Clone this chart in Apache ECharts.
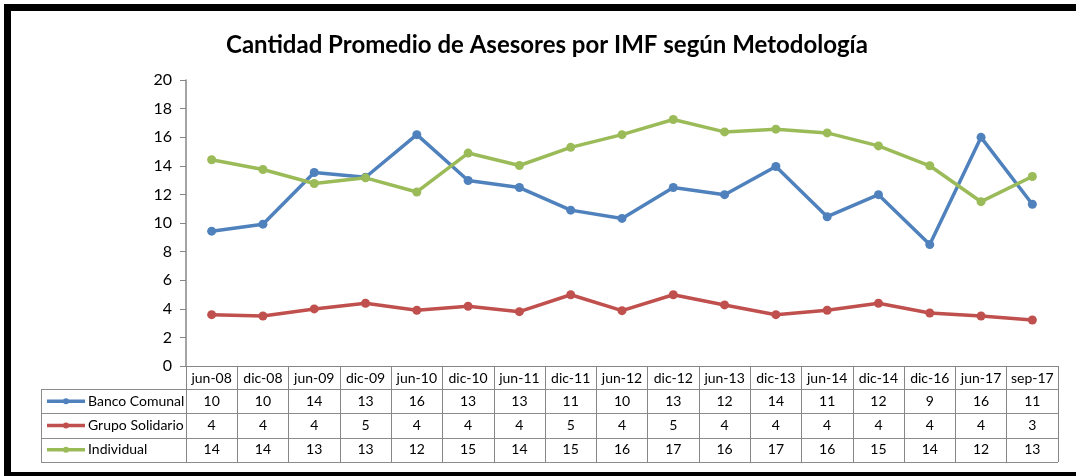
<!DOCTYPE html>
<html><head><meta charset="utf-8">
<script src="https://cdn.jsdelivr.net/npm/echarts@6/dist/echarts.min.js"></script>
<style>html,body{margin:0;padding:0;background:#fff}#c{width:1076px;height:476px}</style>
</head><body><div id="c"></div>
<script>
const categories = ['jun-08','dic-08','jun-09','dic-09','jun-10','dic-10','jun-11','dic-11','jun-12','dic-12','jun-13','dic-13','jun-14','dic-14','dic-16','jun-17','sep-17'];
const seriesNames = ['Banco Comunal','Grupo Solidario','Individual'];
const bancoComunal = [9.43,9.92,13.53,13.2,16.18,12.97,12.48,10.9,10.32,12.48,11.98,13.95,10.44,11.98,8.49,15.99,11.31];
const grupoSolidario = [3.59,3.5,3.99,4.39,3.9,4.18,3.8,4.98,3.87,4.98,4.27,3.59,3.9,4.39,3.71,3.5,3.22];
const individual = [14.42,13.74,12.76,13.16,12.17,14.89,14.02,15.29,16.18,17.24,16.37,16.56,16.3,15.39,14.0,11.49,13.25];
const tableBanco = [10,10,14,13,16,13,13,11,10,13,12,14,11,12,9,16,11];
const tableGrupo = [4,4,4,5,4,4,4,5,4,5,4,4,4,4,4,4,3];
const tableIndividual = [14,14,13,13,12,15,14,15,16,17,16,17,16,15,14,12,13];
const yTicks = [0,2,4,6,8,10,12,14,16,18,20];
const colors = ['#4F81BD','#C0504D','#9BBB59'];
const FONT = 'Lato, "Open Sans", sans-serif';

const chart = echarts.init(document.getElementById('c'));
const mkSeries = (name, data, color) => ({
  name, type: 'line', data, symbol: 'circle', symbolSize: 9,
  lineStyle: {color, width: 3.5}, itemStyle: {color}, animation: false
});
chart.setOption({
  animation: false,
  title: {text: 'Cantidad Promedio de Asesores por IMF según Metodología', left: 221, top: 28,
    textStyle: {fontFamily: FONT, fontWeight: 'bold', fontSize: 24, color: '#000'}},
  grid: {left: 186, right: 18, top: 80, bottom: 110},
  xAxis: {type: 'category', data: categories, boundaryGap: true,
    axisLine: {show: true, lineStyle: {color: '#868686', width: 1}},
    axisTick: {show: true, length: 96, lineStyle: {color: '#868686', width: 1}},
    axisLabel: {margin: 5, fontFamily: FONT, fontSize: 14, color: '#000', interval: 0}},
  yAxis: {type: 'value', min: yTicks[0], max: yTicks[yTicks.length-1], interval: 2,
    axisLine: {show: true, lineStyle: {color: '#868686', width: 1.5}},
    axisTick: {show: true, length: 6, lineStyle: {color: '#868686'}},
    splitLine: {show: false},
    axisLabel: {margin: 14, fontFamily: FONT, fontSize: 16, color: '#000'}},
  series: [mkSeries(seriesNames[0], bancoComunal, colors[0]),
           mkSeries(seriesNames[1], grupoSolidario, colors[1]),
           mkSeries(seriesNames[2], individual, colors[2])]
});

// Data table below the axis, positioned from the axis scales
const y0 = chart.convertToPixel({yAxisIndex: 0}, 0);
const xs = categories.map((c, i) => chart.convertToPixel({xAxisIndex: 0}, i));
const half = (xs[1] - xs[0]) / 2;
const xRight = xs[xs.length-1] + half;
const tblLeft = 41;
const headH = 23, rowH = 24.3;
const rowsTop = y0 + headH;
const gray = '#8c8c8c';
const g = [];
const tables = [tableBanco, tableGrupo, tableIndividual];
for (let r = 0; r <= 3; r++) {
  const y = Math.round(rowsTop + r * rowH) + 0.5;
  g.push({type: 'line', shape: {x1: tblLeft, y1: y, x2: xRight, y2: y}, style: {stroke: gray, lineWidth: 1}});
}
g.push({type: 'line', shape: {x1: tblLeft + 0.5, y1: rowsTop, x2: tblLeft + 0.5, y2: rowsTop + 3 * rowH}, style: {stroke: gray, lineWidth: 1}});
for (let r = 0; r < 3; r++) {
  const cy = rowsTop + (r + 0.5) * rowH;
  g.push({type: 'line', shape: {x1: 47, y1: cy, x2: 85, y2: cy}, style: {stroke: colors[r], lineWidth: 3.5}});
  g.push({type: 'circle', shape: {cx: 66, cy: cy, r: 3}, style: {fill: colors[r]}});
  g.push({type: 'text', x: 88, y: cy, style: {text: seriesNames[r], fontFamily: FONT, fontSize: 14, fill: '#000', verticalAlign: 'middle', align: 'left'}});
  tables[r].forEach((v, i) => {
    g.push({type: 'text', x: xs[i], y: cy, style: {text: String(v), fontFamily: FONT, fontSize: 14, fill: '#000', align: 'center', verticalAlign: 'middle'}});
  });
}
// outer frame
g.push({type: 'rect', shape: {x: 4, y: 4, width: 1072, height: 7}, style: {fill: '#000'}});
g.push({type: 'rect', shape: {x: 4, y: 4, width: 7, height: 472}, style: {fill: '#000'}});
g.push({type: 'rect', shape: {x: 4, y: 472, width: 1072, height: 4}, style: {fill: '#000'}});
chart.setOption({graphic: g});
</script></body></html>
